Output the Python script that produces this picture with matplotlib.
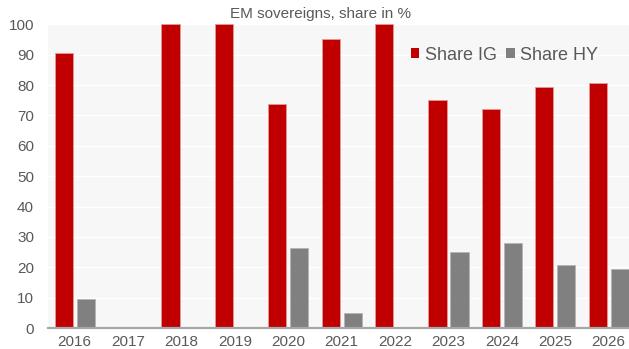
import matplotlib
matplotlib.use("Agg")
import matplotlib.pyplot as plt
import numpy as np
from matplotlib.patches import Patch

years = ["2016", "2017", "2018", "2019", "2020", "2021",
         "2022", "2023", "2024", "2025", "2026"]
share_ig = [90.5, 0, 100, 100, 73.8, 95.2, 100, 75.1, 72.1, 79.3, 80.6]
share_hy = [9.5, 0, 0, 0, 26.2, 4.8, 0, 24.9, 27.9, 20.7, 19.4]

RED = "#c00000"
GREY = "#808080"
TEXT = "#595959"

plt.rcParams["font.family"] = ["Liberation Sans", "DejaVu Sans"]

fig = plt.figure(figsize=(6.29, 3.49), dpi=100)
fig.patch.set_facecolor("white")
ax = fig.add_axes([48 / 629, 21 / 349, 587.4 / 629, 303.7 / 349])
ax.set_facecolor("#f7f7f7")

x = np.arange(len(years))
w = 0.34
off = 0.205
ax.bar(x - off, share_ig, width=w, color=RED, edgecolor="#e39a9a",
       linewidth=0.6, zorder=3)
ax.bar(x + off, share_hy, width=w, color=GREY, edgecolor="#b5b5b5",
       linewidth=0.6, zorder=3)

ax.set_xlim(-0.5, len(years) - 0.5)
ax.set_ylim(0, 100)
ax.set_yticks(np.arange(0, 101, 10))
ax.set_xticks(x)
ax.set_xticklabels(years)

ax.grid(axis="y", color="white", linewidth=1.0, zorder=1)
ax.set_axisbelow(True)
for side in ("top", "right", "left"):
    ax.spines[side].set_visible(False)
ax.spines["bottom"].set_color("#a6a6a6")
ax.spines["bottom"].set_linewidth(1.6)
ax.spines["bottom"].set_zorder(4)

ax.tick_params(axis="both", length=0, labelsize=11, colors=TEXT)
ax.tick_params(axis="y", pad=10)
ax.tick_params(axis="x", pad=5)

fig.text(321 / 629, 1 - 14 / 349, "EM sovereigns, share in %",
         ha="center", va="center", fontsize=11, color=TEXT)

handles = [Patch(facecolor=RED, edgecolor="none", label="Share IG"),
           Patch(facecolor=GREY, edgecolor="none", label="Share HY")]
leg = fig.legend(handles=handles, loc="center left",
                 bbox_to_anchor=(411 / 629, 1 - 55 / 349),
                 ncol=2, frameon=False, fontsize=13,
                 handlelength=0.45, handleheight=0.45,
                 handletextpad=0.3, columnspacing=0.55,
                 borderpad=0, borderaxespad=0)
for t in leg.get_texts():
    t.set_color(TEXT)

fig.savefig("out.png", dpi=100)
